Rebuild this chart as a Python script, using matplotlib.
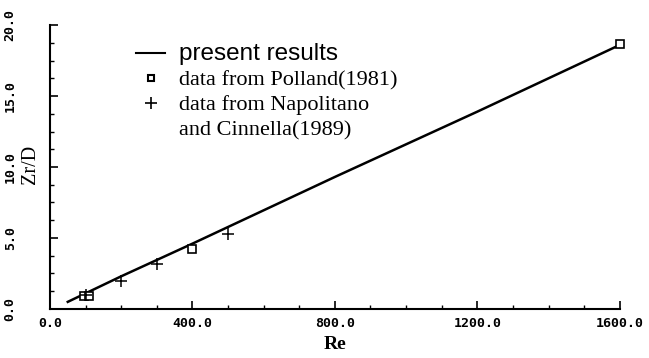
import numpy as np
import matplotlib.pyplot as plt
from matplotlib.ticker import MultipleLocator
from matplotlib.lines import Line2D

# present results (straight-line fit)
re_line = [50, 100, 200, 400, 800, 1200, 1600]
zr_line = [0.5, 1.1, 2.3, 4.6, 9.3, 13.9, 18.6]

# Polland (1981)
re_polland = [95, 110, 400, 1600]
zr_polland = [0.9, 0.9, 4.2, 18.7]

# Napolitano and Cinnella (1989)
re_napol = [100, 200, 300, 500]
zr_napol = [1.0, 2.0, 3.2, 5.3]

x_ticks = [0, 400, 800, 1200, 1600]
y_ticks = [0, 5, 10, 15, 20]

fig = plt.figure(figsize=(6.49, 3.58), dpi=100)
ax = fig.add_axes([0.077, 0.137, 0.878, 0.793])

ax.plot(re_line, zr_line, color='black', lw=1.8)
ax.plot(re_polland, zr_polland, ls='none', marker='s', ms=6, mfc='white',
        mec='black', mew=1.2, clip_on=False)
ax.plot(re_napol, zr_napol, ls='none', marker='+', ms=8, color='black', mew=1.1)

for s in ['top', 'right']:
    ax.spines[s].set_visible(False)
for s in ['left', 'bottom']:
    ax.spines[s].set_linewidth(1.5)

tick_font = dict(family='DejaVu Sans Mono', weight='bold', size=9.5)
ax.set_xticks(x_ticks)
ax.set_xticklabels([f'{v:.1f}' for v in x_ticks], **tick_font)
ax.set_yticks(y_ticks)
ax.set_yticklabels([f'{v:.1f}' for v in y_ticks], rotation=90,
                   va='center', **tick_font)
ax.xaxis.set_minor_locator(MultipleLocator(100))
ax.yaxis.set_minor_locator(MultipleLocator(1.25))
ax.set_xlim(0, 1600)
ax.set_ylim(0, 20)
ax.tick_params(which='major', direction='in', length=6, width=1.2)
ax.tick_params(which='minor', direction='in', length=3, width=1)
ax.tick_params(axis='x', pad=6)
ax.tick_params(axis='y', pad=24)

ax.set_xlabel('Re', family='Liberation Serif', weight='bold', fontsize=14,
              labelpad=4)
ax.set_ylabel('Zr/D', family='Liberation Serif', fontsize=14.5)
ax.yaxis.set_label_coords(-0.018, 0.51)

handles = [
    Line2D([], [], color='black', lw=1.5),
    Line2D([], [], ls='none', marker='s', ms=5, mfc='white', mec='black', mew=1.5),
    Line2D([], [], ls='none', marker='+', ms=9, color='black', mew=1.2),
    Line2D([], [], ls='none'),
]
labels = ['present results', 'data from Polland(1981)',
          'data from Napolitano', 'and Cinnella(1989)']
leg = ax.legend(handles, labels, loc='upper left',
                bbox_to_anchor=(0.193, 0.91), bbox_transform=fig.transFigure,
                frameon=False, fontsize=16, handlelength=1.3,
                handletextpad=0.6, labelspacing=0.2, borderpad=0)
texts = leg.get_texts()
texts[0].set_family('Liberation Sans')
texts[0].set_fontsize(17.5)
for t in texts[1:]:
    t.set_family('Liberation Serif')
    t.set_fontsize(16)

fig.savefig('out.png', dpi=100)
